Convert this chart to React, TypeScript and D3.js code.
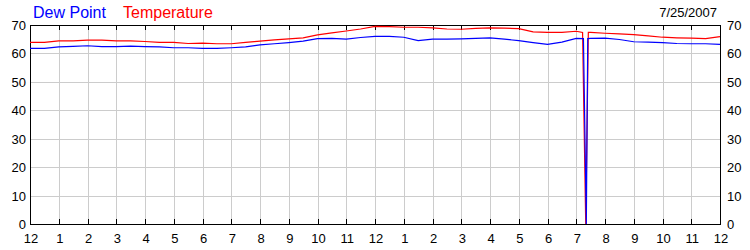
import React from "react";
import * as d3 from "d3";

const times = [0, 0.5, 1, 1.5, 2, 2.5, 3, 3.5, 4, 4.5, 5, 5.5, 6, 6.5, 7, 7.5, 8, 8.5, 9, 9.5, 10, 10.5, 11, 11.5, 12, 12.5, 13, 13.5, 14, 14.5, 15, 15.5, 16, 16.5, 17, 17.5, 18, 18.5, 19, 19.22, 19.33, 19.42, 19.5, 20, 20.5, 21, 21.5, 22, 22.5, 23, 23.5, 24];
const temperature = [63.9, 63.9, 64.4, 64.4, 64.7, 64.7, 64.4, 64.4, 64.2, 63.9, 63.9, 63.5, 63.6, 63.4, 63.4, 63.9, 64.3, 64.8, 65.1, 65.5, 66.5, 67.2, 67.9, 68.6, 69.5, 69.4, 69.2, 69.2, 69.0, 68.6, 68.5, 68.8, 69.0, 68.9, 68.7, 67.6, 67.4, 67.4, 67.8, 67.4, 0, 67.4, 67.4, 67.1, 66.9, 66.6, 66.2, 65.7, 65.5, 65.4, 65.2, 65.9];
const dewTimes = [0, 0.5, 1, 1.5, 2, 2.5, 3, 3.5, 4, 4.5, 5, 5.5, 6, 6.5, 7, 7.5, 8, 8.5, 9, 9.5, 10, 10.5, 11, 11.5, 12, 12.5, 13, 13.5, 14, 14.5, 15, 15.5, 16, 16.5, 17, 17.5, 18, 18.5, 19, 19.25, 19.35, 19.4, 19.5, 20, 20.5, 21, 21.5, 22, 22.5, 23, 23.5, 24];
const dewPoint = [61.8, 61.8, 62.3, 62.5, 62.7, 62.4, 62.4, 62.6, 62.4, 62.3, 62.0, 62.0, 61.8, 61.8, 62.0, 62.3, 63.0, 63.4, 63.8, 64.3, 65.2, 65.3, 65.0, 65.6, 66.0, 66.0, 65.7, 64.5, 65.0, 65.0, 65.1, 65.3, 65.5, 65.0, 64.5, 63.8, 63.2, 64.0, 65.3, 65.2, 0, 65.2, 65.3, 65.4, 64.9, 64.1, 64.0, 63.8, 63.5, 63.4, 63.4, 63.2];
const hourLabels = ["12", "1", "2", "3", "4", "5", "6", "7", "8", "9", "10", "11", "12", "1", "2", "3", "4", "5", "6", "7", "8", "9", "10", "11", "12"];
const yTicks = [0, 10, 20, 30, 40, 50, 60, 70];
const seriesNames = ["Dew Point", "Temperature"];
const dateLabel = "7/25/2007";

export default function App() {
  const W = 750, H = 250;
  const left = 30, right = 720, top = 25, bottom = 224;
  const x = d3.scaleLinear().domain([0, 24]).range([left, right]);
  const y = d3.scaleLinear().domain([0, 70]).range([bottom, top]);
  const font = "'Liberation Sans', Arial, sans-serif";
  const tempLine = d3.line<number>().x((_, i) => x(times[i])).y((d) => y(d));
  const dewLine = d3.line<number>().x((_, i) => x(dewTimes[i])).y((d) => y(d));
  const hours = d3.range(0, 25);
  return (
    <svg width={W} height={H} style={{ position: "absolute", left: 0, top: 0 }}>
      <rect x={0} y={0} width={W} height={H} fill="#fff" />
      {hours.slice(1, 24).map((h) => (
        <line key={"gx" + h} x1={x(h) + 0.5} x2={x(h) + 0.5} y1={top} y2={bottom} stroke="#cccccc" strokeWidth={1} shapeRendering="crispEdges" />
      ))}
      {yTicks.slice(1, 7).map((v) => (
        <line key={"gy" + v} x1={left} x2={right} y1={Math.round(y(v)) + 0.5} y2={Math.round(y(v)) + 0.5} stroke="#cccccc" strokeWidth={1} shapeRendering="crispEdges" />
      ))}
      {hours.map((h) => (
        <g key={"t" + h}>
          <line x1={x(h) + 0.5} x2={x(h) + 0.5} y1={bottom} y2={bottom - 5} stroke="#000" shapeRendering="crispEdges" />
          <line x1={x(h) + 0.5} x2={x(h) + 0.5} y1={top} y2={top + 5} stroke="#000" shapeRendering="crispEdges" />
          <text x={x(h) + 1} y={243} fontFamily={font} fontSize={13} textAnchor="middle" fill="#000">{hourLabels[h]}</text>
        </g>
      ))}
      {yTicks.map((v) => (
        <g key={"yl" + v}>
          <text x={26} y={y(v) + 5} fontFamily={font} fontSize={13} textAnchor="end" fill="#000">{v}</text>
          <text x={727} y={y(v) + 5} fontFamily={font} fontSize={13} textAnchor="start" fill="#000">{v}</text>
        </g>
      ))}
      <rect x={left + 0.5} y={top + 0.5} width={right - left} height={bottom - top} fill="none" stroke="#000" strokeWidth={1} shapeRendering="crispEdges" />
      <path d={tempLine(temperature) || ""} fill="none" stroke="#ff0000" strokeWidth={1.2} />
      <path d={dewLine(dewPoint) || ""} fill="none" stroke="#0000ff" strokeWidth={1.2} />
      <text x={33} y={18} fontFamily={font} fontSize={16} fill="#0000ff">{seriesNames[0]}</text>
      <text x={123} y={18} fontFamily={font} fontSize={16} fill="#ff0000">{seriesNames[1]}</text>
      <text x={717} y={17} fontFamily={font} fontSize={13} textAnchor="end" fill="#000">{dateLabel}</text>
    </svg>
  );
}
